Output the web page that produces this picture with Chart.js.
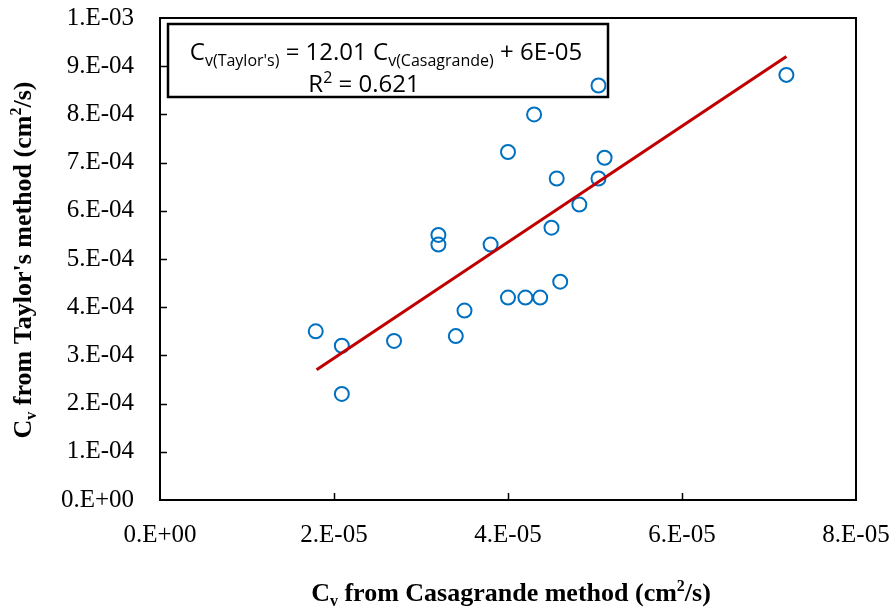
<!DOCTYPE html>
<html>
<head>
<meta charset="utf-8">
<script src="https://cdn.jsdelivr.net/npm/chart.js@4.4.0/dist/chart.umd.min.js"></script>
<style>
html,body{margin:0;padding:0;background:#fff;}
</style>
</head>
<body>
<canvas id="scatterChart" width="894" height="612"></canvas>
<script>
// Cv values (cm2/s)
const casagrandeCv = [1.79e-5, 2.09e-5, 2.09e-5, 2.69e-5, 3.4e-5, 3.5e-5, 3.2e-5, 3.2e-5, 3.8e-5, 4.0e-5, 4.3e-5,
  4.0e-5, 4.2e-5, 4.37e-5, 4.6e-5, 4.5e-5, 4.56e-5, 4.82e-5, 5.04e-5, 5.11e-5, 5.04e-5, 7.2e-5];
const taylorCv = [3.5e-4, 3.2e-4, 2.2e-4, 3.3e-4, 3.4e-4, 3.93e-4, 5.5e-4, 5.3e-4, 5.3e-4, 7.22e-4, 8.0e-4,
  4.2e-4, 4.2e-4, 4.2e-4, 4.53e-4, 5.65e-4, 6.67e-4, 6.13e-4, 6.67e-4, 7.1e-4, 8.6e-4, 8.82e-4];

// trend line end points
const trendX = [1.8e-5, 7.2e-5];
const trendY = [2.7e-4, 9.2e-4];

const xTicks = [0, 2e-5, 4e-5, 6e-5, 8e-5];
const yTicks = [0, 1e-4, 2e-4, 3e-4, 4e-4, 5e-4, 6e-4, 7e-4, 8e-4, 9e-4, 1e-3];

const serif = "'Liberation Serif', 'Times New Roman', serif";
const sans = "'Liberation Sans Narrow', 'Open Sans', sans-serif";

// Excel style "0.E+00"
function sciLabel(v) {
  if (Math.abs(v) < 1e-12) return '0.E+00';
  const s = Number(v).toExponential(0).split('e');
  let exp = parseInt(s[1], 10);
  const sign = exp < 0 ? '-' : '+';
  exp = Math.abs(exp);
  return s[0] + '.E' + sign + (exp < 10 ? '0' + exp : exp);
}

function drawRich(ctx, parts, x, y) {
  let total = 0;
  parts.forEach(p => { ctx.font = p.font; p.w = ctx.measureText(p.t).width; total += p.w; });
  let cx = x - total / 2;
  ctx.textAlign = 'left';
  ctx.textBaseline = 'alphabetic';
  parts.forEach(p => { ctx.font = p.font; ctx.fillText(p.t, cx, y + (p.dy || 0)); cx += p.w; });
}

const decorPlugin = {
  id: 'decor',
  // equation box sits under the markers
  beforeDatasetsDraw(chart) {
    const ctx = chart.ctx;
    ctx.save();
    ctx.fillStyle = '#fff';
    ctx.fillRect(168, 24, 440, 73);
    ctx.strokeStyle = '#000';
    ctx.lineWidth = 2.5;
    ctx.strokeRect(168, 24, 440, 73);
    ctx.fillStyle = '#000';
    const big = '24px ' + sans, small = '16px ' + sans;
    drawRich(ctx, [
      {t: 'C', font: big},
      {t: "v(Taylor's)", font: small, dy: 6},
      {t: ' = 12.01 C', font: big},
      {t: 'v(Casagrande)', font: small, dy: 6},
      {t: ' + 6E-05', font: big}
    ], 386, 60);
    drawRich(ctx, [
      {t: 'R', font: big},
      {t: '2', font: small, dy: -9},
      {t: ' = 0.621', font: big}
    ], 364, 92);
    ctx.restore();
  },
  afterDraw(chart) {
    const ctx = chart.ctx;
    const a = chart.chartArea;
    const xs = chart.scales.x, ys = chart.scales.y;
    ctx.save();
    ctx.strokeStyle = '#000';
    ctx.lineWidth = 2;
    // plot frame
    ctx.strokeRect(a.left, a.top, a.right - a.left, a.bottom - a.top);
    // inside tick marks
    ctx.beginPath();
    yTicks.slice(1, -1).forEach(v => {
      const py = Math.round(ys.getPixelForValue(v)) + 0.5;
      ctx.moveTo(a.left, py); ctx.lineTo(a.left + 7, py);
    });
    xTicks.slice(1, -1).forEach(v => {
      const px = Math.round(xs.getPixelForValue(v)) + 0.5;
      ctx.moveTo(px, a.bottom); ctx.lineTo(px, a.bottom - 7);
    });
    ctx.lineWidth = 1.5;
    ctx.stroke();

    // axis titles
    ctx.fillStyle = '#000';
    const tb = 'bold 26px ' + serif, ts = 'bold 16px ' + serif;
    drawRich(ctx, [
      {t: 'C', font: tb},
      {t: 'v', font: ts, dy: 5},
      {t: ' from Casagrande method (cm', font: tb},
      {t: '2', font: ts, dy: -10},
      {t: '/s)', font: tb}
    ], 511, 601);
    ctx.translate(31, 260);
    ctx.rotate(-Math.PI / 2);
    drawRich(ctx, [
      {t: 'C', font: tb},
      {t: 'v', font: ts, dy: 5},
      {t: " from Taylor's method (cm", font: tb},
      {t: '2', font: ts, dy: -10},
      {t: '/s)', font: tb}
    ], 0, 0);
    ctx.restore();
  }
};

const ctx = document.getElementById('scatterChart').getContext('2d');
const chart = new Chart(ctx, {
  type: 'scatter',
  data: {
    datasets: [{
      label: 'Trend',
      type: 'line',
      data: trendX.map((x, i) => ({x: x, y: trendY[i]})),
      borderColor: '#C00000',
      borderWidth: 3,
      pointRadius: 0,
      fill: false,
      order: 0
    }, {
      label: 'Cv',
      data: casagrandeCv.map((x, i) => ({x: x, y: taylorCv[i]})),
      pointStyle: 'circle',
      pointRadius: 7,
      borderWidth: 2,
      borderColor: '#0070C0',
      backgroundColor: 'rgba(0,0,0,0)',
      order: 1
    }]
  },
  options: {
    responsive: false,
    animation: false,
    layout: { padding: { top: 18, right: 38, left: 0, bottom: 0 } },
    plugins: { legend: { display: false }, tooltip: { enabled: false } },
    scales: {
      x: {
        type: 'linear', min: 0, max: 8e-5,
        afterBuildTicks: s => { s.ticks = xTicks.map(v => ({value: v})); },
        afterFit: s => { s.height = 112; s.paddingLeft = 0; s.paddingRight = 0; },
        grid: { display: false, drawTicks: false },
        border: { display: false },
        ticks: { color: '#000', padding: 20, maxRotation: 0, font: { family: serif, size: 25 }, callback: v => sciLabel(v) }
      },
      y: {
        type: 'linear', min: 0, max: 1e-3,
        afterBuildTicks: s => { s.ticks = yTicks.map(v => ({value: v})); },
        afterFit: s => { s.width = 160; s.paddingTop = 0; s.paddingBottom = 0; },
        grid: { display: false, drawTicks: false },
        border: { display: false },
        ticks: { color: '#000', padding: 26, font: { family: serif, size: 25 }, callback: v => sciLabel(v) }
      }
    }
  },
  plugins: [decorPlugin]
});
</script>
</body>
</html>
